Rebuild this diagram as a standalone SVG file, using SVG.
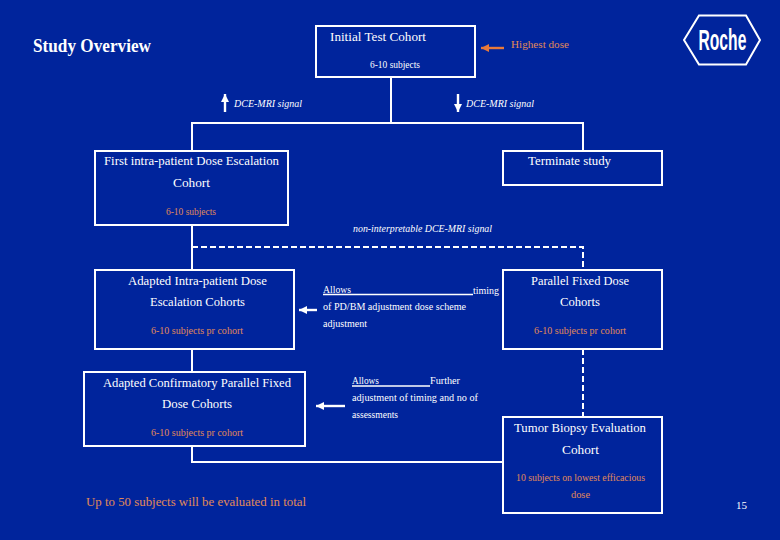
<svg xmlns="http://www.w3.org/2000/svg" width="780" height="540" viewBox="0 0 780 540">
<style>
text{font-family:"Liberation Serif","DejaVu Serif",serif;fill:#fff}
.box{fill:none;stroke:#fff;stroke-width:2}
.c{fill:none;stroke:#fff;stroke-width:2}
.d{fill:none;stroke:#fff;stroke-width:2;stroke-dasharray:6 3}
.a{fill:none;stroke:#fff;stroke-width:2.4;marker-end:url(#w)}
.o{fill:none;stroke:#E8793A;stroke-width:2.4;marker-end:url(#or)}
.t{font-size:13px}.s{font-size:9.5px}.i{font-size:10px;font-style:italic}.n{font-size:10px}
.p{fill:#E08A58}
</style>
<defs>
<marker id="w" markerUnits="userSpaceOnUse" markerWidth="9" markerHeight="9" refX="8" refY="4.500" orient="auto"><path d="M0 0.500L8 4.500L0 8.500Z" fill="#fff"/></marker>
<marker id="or" markerUnits="userSpaceOnUse" markerWidth="9" markerHeight="9" refX="8" refY="4.500" orient="auto"><path d="M0 0.500L8 4.500L0 8.500Z" fill="#E8793A"/></marker>
</defs>
<rect width="780" height="540" fill="#00249C"/>
<text x="33" y="52" font-size="18" font-weight="bold" textLength="118" lengthAdjust="spacingAndGlyphs">Study Overview</text>
<g id="connectors">
<path class="c" d="M391 77V123M192 151V123H583V151M192 225V270M192 349V372M192 446V462H503"/>
<path class="d" d="M192 247H583V270M583 349V417"/>
<path class="o" d="M504 48H481"/>
<path class="a" d="M225 112V94"/>
<path class="a" d="M458 94V112"/>
<path class="a" d="M317 310H299"/>
<path class="a" d="M345 406H316"/>
</g>
<g id="initial"><rect class="box" x="316" y="26" width="159" height="51"/>
<text class="t" x="330" y="41" textLength="96" lengthAdjust="spacingAndGlyphs">Initial Test Cohort</text>
<text class="s" x="370" y="68" textLength="50" lengthAdjust="spacingAndGlyphs">6-10 subjects</text></g>
<g id="highest"><text class="p" x="511" y="48" font-size="11" textLength="58" lengthAdjust="spacingAndGlyphs">Highest dose</text></g>
<g id="logo"><path d="M684 40L699 15.500H746L760 40L746 64.500H699Z" fill="none" stroke="#fff" stroke-width="2"/>
<text transform="translate(698.500 50) scale(0.54 1)" style="font-family:'Liberation Sans',sans-serif;font-size:29px;font-weight:bold">Roche</text></g>
<g id="dce-up"><text class="i" x="234" y="107" textLength="68" lengthAdjust="spacingAndGlyphs">DCE-MRI signal</text></g>
<g id="dce-down"><text class="i" x="466" y="107" textLength="68" lengthAdjust="spacingAndGlyphs">DCE-MRI signal</text></g>
<g id="first"><rect class="box" x="95" y="151" width="193" height="74"/>
<text class="t" x="104" y="165" textLength="175" lengthAdjust="spacingAndGlyphs">First intra-patient Dose Escalation</text>
<text class="t" x="173" y="187" textLength="37" lengthAdjust="spacingAndGlyphs">Cohort</text>
<text class="s p" x="166" y="215" textLength="50" lengthAdjust="spacingAndGlyphs">6-10 subjects</text></g>
<g id="terminate"><rect class="box" x="503" y="151" width="159" height="34"/>
<text class="t" x="528" y="165" textLength="83" lengthAdjust="spacingAndGlyphs">Terminate study</text></g>
<g id="nonint"><text class="i" x="353" y="232" textLength="139" lengthAdjust="spacingAndGlyphs">non-interpretable DCE-MRI signal</text></g>
<g id="adapted"><rect class="box" x="95" y="270" width="199" height="79"/>
<text class="t" x="128" y="285" textLength="139" lengthAdjust="spacingAndGlyphs">Adapted Intra-patient Dose</text>
<text class="t" x="150" y="306" textLength="95" lengthAdjust="spacingAndGlyphs">Escalation Cohorts</text>
<text class="s p" x="151" y="334" textLength="92" lengthAdjust="spacingAndGlyphs">6-10 subjects pr cohort</text></g>
<g id="note1"><path d="M323 294.500H473" stroke="#fff" stroke-width="1.500"/>
<text class="n" x="323" y="293" textLength="28" lengthAdjust="spacingAndGlyphs">Allows</text>
<text class="n" x="473" y="294" textLength="26" lengthAdjust="spacingAndGlyphs">timing</text>
<text class="n" x="323" y="310" textLength="143" lengthAdjust="spacingAndGlyphs">of PD/BM adjustment dose scheme</text>
<text class="n" x="323" y="327" textLength="44" lengthAdjust="spacingAndGlyphs">adjustment</text></g>
<g id="parallel"><rect class="box" x="503" y="270" width="159" height="79"/>
<text class="t" x="531" y="285" textLength="98" lengthAdjust="spacingAndGlyphs">Parallel Fixed Dose</text>
<text class="t" x="560" y="306" textLength="40" lengthAdjust="spacingAndGlyphs">Cohorts</text>
<text class="s p" x="534" y="334" textLength="92" lengthAdjust="spacingAndGlyphs">6-10 subjects pr cohort</text></g>
<g id="confirm"><rect class="box" x="84" y="372" width="221" height="74"/>
<text class="t" x="103" y="387" textLength="188" lengthAdjust="spacingAndGlyphs">Adapted Confirmatory Parallel Fixed</text>
<text class="t" x="162" y="408" textLength="70" lengthAdjust="spacingAndGlyphs">Dose Cohorts</text>
<text class="s p" x="151" y="436" textLength="92" lengthAdjust="spacingAndGlyphs">6-10 subjects pr cohort</text></g>
<g id="note2"><path d="M352 386H430" stroke="#fff" stroke-width="1.500"/>
<text class="n" x="352" y="384" textLength="27" lengthAdjust="spacingAndGlyphs">Allows</text>
<text class="n" x="430" y="384" textLength="30" lengthAdjust="spacingAndGlyphs">Further</text>
<text class="n" x="352" y="401" textLength="126" lengthAdjust="spacingAndGlyphs">adjustment of timing and no of</text>
<text class="n" x="352" y="418" textLength="46" lengthAdjust="spacingAndGlyphs">assessments</text></g>
<g id="tumor"><rect class="box" x="503" y="417" width="159" height="96"/>
<text class="t" x="514" y="432" textLength="132" lengthAdjust="spacingAndGlyphs">Tumor Biopsy Evaluation</text>
<text class="t" x="562" y="454" textLength="37" lengthAdjust="spacingAndGlyphs">Cohort</text>
<text class="s p" x="516" y="481" textLength="129" lengthAdjust="spacingAndGlyphs">10 subjects on lowest efficacious</text>
<text class="s p" x="571" y="498" textLength="19" lengthAdjust="spacingAndGlyphs">dose</text></g>
<g id="total"><text class="p" x="86" y="506" font-size="12" textLength="220" lengthAdjust="spacingAndGlyphs">Up to 50 subjects will be evaluated in total</text></g>
<text x="736" y="509" font-size="10" textLength="11" lengthAdjust="spacingAndGlyphs">15</text>
</svg>
